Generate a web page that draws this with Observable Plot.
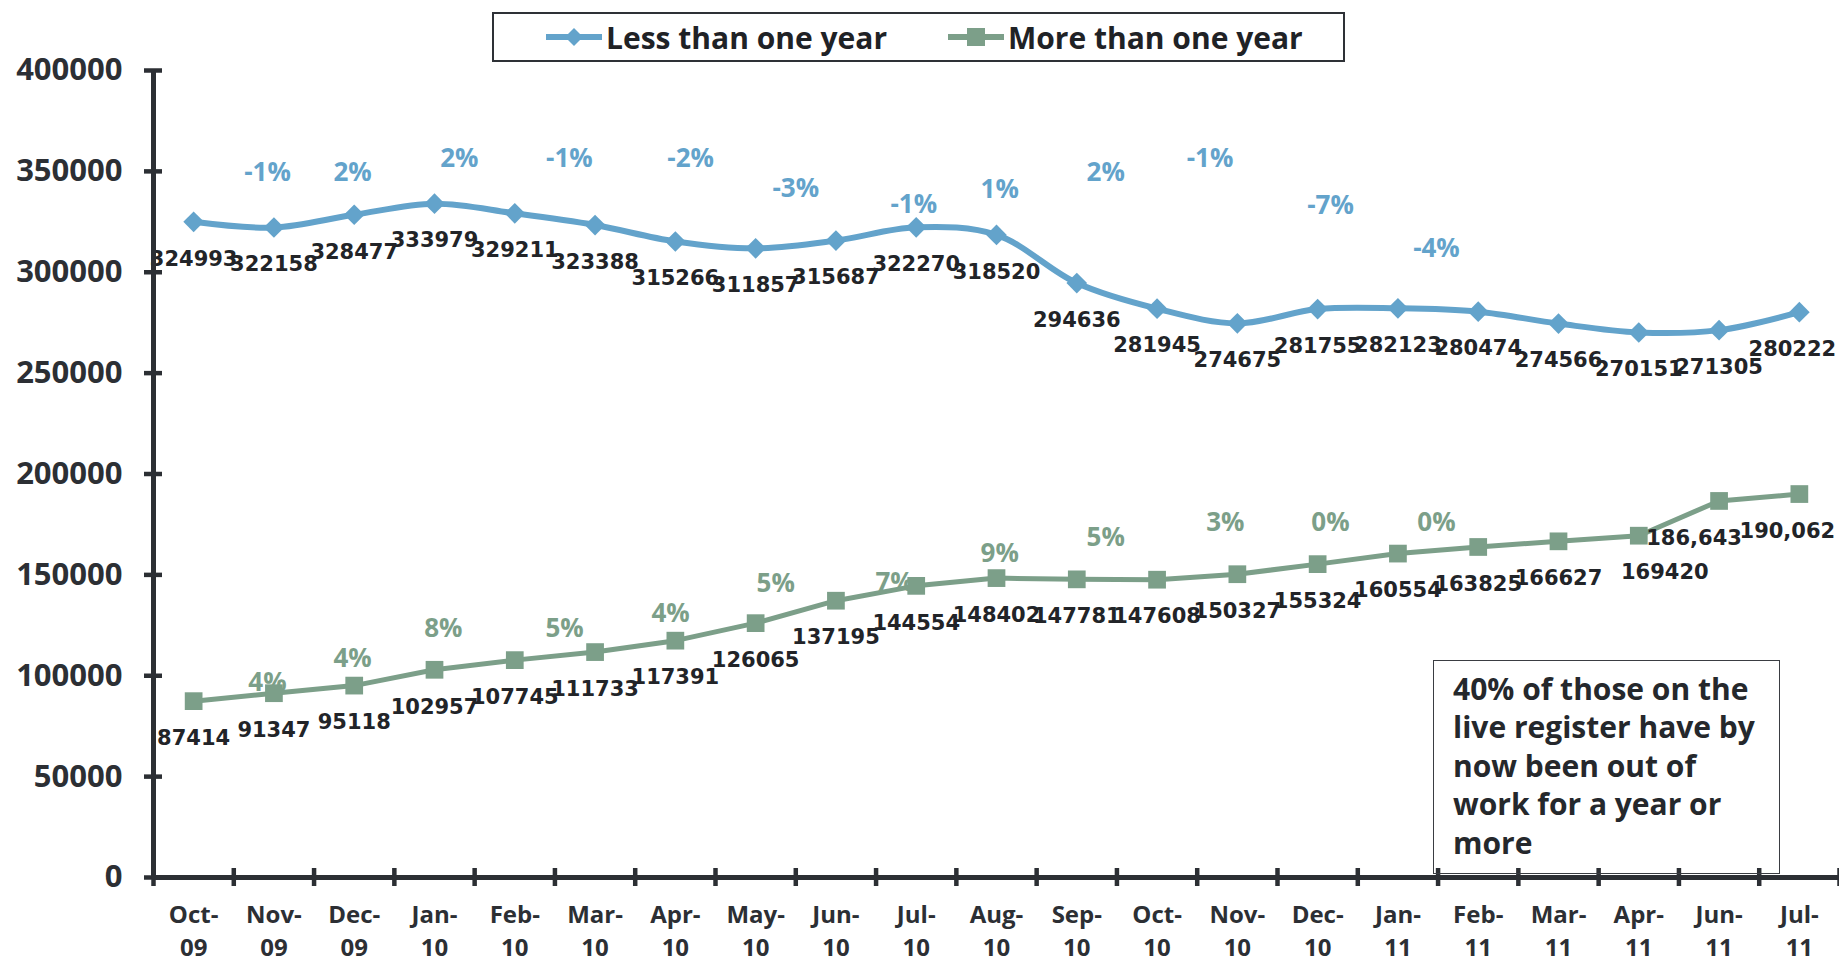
<!DOCTYPE html>
<html>
<head>
<meta charset="utf-8">
<script src="https://cdn.jsdelivr.net/npm/d3@7"></script>
<script src="https://cdn.jsdelivr.net/npm/@observablehq/plot@0.6"></script>
<style>
  html, body { margin: 0; padding: 0; background: #fff; }
  #wrap { position: relative; width: 1839px; height: 965px; overflow: hidden; }
  #legend { position: absolute; left: 492px; top: 12px; width: 853px; height: 50px; box-sizing: border-box;
            border: 2px solid #2e3136; background: #fff; font-family: "Open Sans", sans-serif; font-weight: 700;
            font-size: 30px; color: #1f2226; }
  #legend .item { position: absolute; top: 0; height: 46px; display: flex; align-items: center; }
  #legend svg { display: block; margin-right: 4px; }
  #note { position: absolute; left: 1433px; top: 660px; width: 347px; height: 214px; box-sizing: border-box;
          border: 1.5px solid #3a3d42; padding: 9px 0 0 19px; font-family: "Open Sans", sans-serif;
          font-weight: 700; font-size: 30px; line-height: 38.4px; color: #25282c; background: transparent;
          white-space: nowrap; }
</style>
</head>
<body>
<div id="wrap">
  <div id="chart"></div>
  <div id="legend"></div>
  <div id="note"></div>
</div>
<script>
// ---------- data ----------
const months = ["Oct-\n09","Nov-\n09","Dec-\n09","Jan-\n10","Feb-\n10","Mar-\n10","Apr-\n10","May-\n10","Jun-\n10","Jul-\n10","Aug-\n10","Sep-\n10","Oct-\n10","Nov-\n10","Dec-\n10","Jan-\n11","Feb-\n11","Mar-\n11","Apr-\n11","Jun-\n11","Jul-\n11"];
const lessThanOneYear = [324993,322158,328477,333979,329211,323388,315266,311857,315687,322270,318520,294636,281945,274675,281755,282123,280474,274566,270151,271305,280222];
const moreThanOneYear = [87414,91347,95118,102957,107745,111733,117391,126065,137195,144554,148402,147781,147608,150327,155324,160554,163825,166627,169420,186643,190062];
const moreLabelText = ["87414","91347","95118","102957","107745","111733","117391","126065","137195","144554","148402","147781","147608","150327","155324","160554","163825","166627","169420","186,643","190,062"];

// percentage-change annotations (position along the month axis, height in data units)
const lessChangeText = ["-1%","2%","2%","-1%","-2%","-3%","-1%","1%","2%","-1%","-7%","-4%"];
const lessChangePos  = [0.92,1.98,3.31,4.68,6.19,7.50,8.97,10.04,11.36,12.66,14.16,15.48];
const lessChangeAt   = [349200,349200,356100,356100,356100,341200,333300,340700,349200,356100,333000,311500];
const moreChangeText = ["4%","4%","8%","5%","4%","5%","7%","9%","5%","3%","0%","0%"];
const moreChangePos  = [0.92,1.98,3.11,4.62,5.94,7.25,8.73,10.04,11.36,12.85,14.16,15.48];
const moreChangeAt   = [96700,108600,123500,123500,130900,145800,146300,160700,168600,176100,176100,176100];

const yTicks = [0,50000,100000,150000,200000,250000,300000,350000,400000];
const seriesNames = ["Less than one year","More than one year"];
const noteText = "40% of those on the<br>live register have by<br>now been out of<br>work for a year or<br>more";

// ---------- styles ----------
const BLUE = "#63a3cb", GREEN = "#7c9f89", AXIS = "#2c2f34", TXT = "#222428";
// horizontal nudges of a few value labels (pixels), as in the original layout
const lessNudge = {20: -7};
const moreNudge = {18: 26, 19: -25, 20: -12};

const less = lessThanOneYear.map((v, i) => ({i, v, t: String(v), dx: lessNudge[i] || 0}));
const more = moreThanOneYear.map((v, i) => ({i, v, t: moreLabelText[i], dx: moreNudge[i] || 0}));
const lessChg = lessChangeText.map((t, k) => ({t, x: lessChangePos[k], y: lessChangeAt[k]}));
const moreChg = moreChangeText.map((t, k) => ({t, x: moreChangePos[k], y: moreChangeAt[k]}));
const n = months.length;
const bounds = d3.range(n + 1).map(k => k - 0.5);

function valueLabels(rows) {
  const shifts = Array.from(new Set(rows.map(d => d.dx)));
  return shifts.map(s => Plot.text(rows.filter(d => d.dx === s), {
    x: "i", y: "v", text: "t", dy: 37, dx: s, fill: TXT,
    fontFamily: "DejaVu Sans", fontWeight: 700, fontSize: 21
  }));
}

const chart = Plot.plot({
  width: 1839,
  height: 965,
  marginLeft: 153,
  marginRight: 0,
  marginTop: 70,
  marginBottom: 88,
  style: {background: "#fff", color: AXIS},
  x: {type: "linear", domain: [-0.5, n - 0.5], axis: null},
  y: {domain: [0, 400000], axis: null},
  marks: [
    // change annotations (drawn beneath the lines)
    Plot.text(lessChg, {x: "x", y: "y", text: "t", fill: BLUE, fontFamily: "Open Sans", fontWeight: 700, fontSize: 26}),
    Plot.text(moreChg, {x: "x", y: "y", text: "t", fill: GREEN, fontFamily: "Open Sans", fontWeight: 700, fontSize: 26}),
    // series
    Plot.line(less, {x: "i", y: "v", stroke: BLUE, strokeWidth: 6, curve: "catmull-rom"}),
    Plot.dot(less, {x: "i", y: "v", symbol: "diamond2", r: 9.3, fill: BLUE, stroke: null}),
    Plot.line(more, {x: "i", y: "v", stroke: GREEN, strokeWidth: 5}),
    Plot.dot(more, {x: "i", y: "v", symbol: "square", r: 10, fill: GREEN, stroke: null}),
    // value labels
    ...valueLabels(less),
    ...valueLabels(more),
    // axes
    Plot.ruleX([-0.5], {y1: 0, y2: 400000, stroke: AXIS, strokeWidth: 5}),
    Plot.ruleY([0], {stroke: AXIS, strokeWidth: 5}),
    Plot.axisY({ticks: yTicks, tickSize: 18, dx: 9, tickPadding: 22, strokeWidth: 4.5, stroke: AXIS,
                tickFormat: d => String(d), fontFamily: "Open Sans", fontWeight: 700, fontSize: 31, fill: AXIS}),
    Plot.axisX({ticks: bounds, tickSize: 18, dy: -9, strokeWidth: 4.5, stroke: AXIS, tickFormat: () => ""}),
    Plot.axisX({ticks: d3.range(n), tickSize: 0, tickPadding: 22, tickFormat: i => months[i],
                fontFamily: "Open Sans", fontWeight: 700, fontSize: 24, lineHeight: 1.37, fill: AXIS})
  ]
});
document.getElementById("chart").appendChild(chart);

// ---------- legend ----------
const legend = document.getElementById("legend");
legend.innerHTML =
  `<div class="item" style="left:52px">
     <svg width="56" height="24"><line x1="1" y1="12" x2="55" y2="12" stroke="${BLUE}" stroke-width="6" stroke-linecap="round"/>
     <path d="M28 3 L37 12 L28 21 L19 12 Z" fill="${BLUE}"/></svg><span>${seriesNames[0]}</span></div>
   <div class="item" style="left:454px">
     <svg width="56" height="24"><line x1="1" y1="12" x2="55" y2="12" stroke="${GREEN}" stroke-width="6" stroke-linecap="round"/>
     <rect x="19" y="3" width="18" height="18" fill="${GREEN}"/></svg><span>${seriesNames[1]}</span></div>`;

document.getElementById("note").innerHTML = noteText;
</script>
</body>
</html>
